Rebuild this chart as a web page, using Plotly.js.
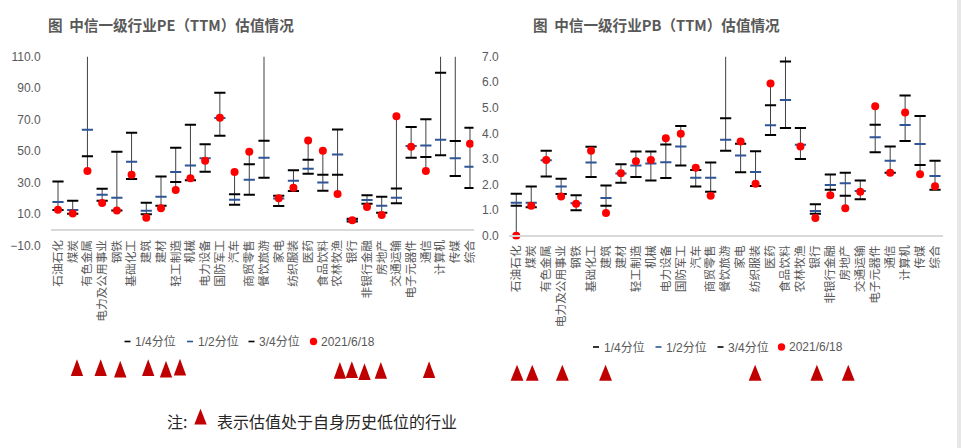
<!DOCTYPE html>
<html>
<head>
<meta charset="utf-8">
<script src="https://cdn.plot.ly/plotly-3.0.1.min.js"></script>
<style>
  html, body { margin: 0; padding: 0; background: #ffffff; }
  #chart { width: 961px; height: 448px; }
</style>
</head>
<body>
<div id="chart"></div>
<script>
// ---------------- DATA ----------------
const categories = ['石油石化','煤炭','有色金属','电力及公用事业','钢铁','基础化工','建筑','建材','轻工制造','机械',
  '电力设备','国防军工','汽车','商贸零售','餐饮旅游','家电','纺织服装','医药','食品饮料','农林牧渔',
  '银行','非银行金融','房地产','交通运输','电子元器件','通信','计算机','传媒','综合'];

const seriesNames = ['1/4分位', '1/2分位', '3/4分位', '2021/6/18'];

// PE (TTM)
const peQ1  = [12.5, 10.2, 46.7, 18.5, 12.3, 32.2, 9.8, 15.3, 30.3, 31.4, 36.9, 59.8, 15.9, 22.3, 33.1, 15.1, 24.6, 35.6, 24.8, 35.0, 5.3, 16.6, 10.8, 16.8, 45.8, 46.2, 47.3, 34.2, 26.5];
const peQ2  = [17.6, 12.5, 63.6, 22.3, 20.4, 43.3, 12.1, 21.0, 36.7, 40.9, 45.4, 71.0, 19.1, 31.8, 45.8, 19.8, 31.2, 38.8, 30.1, 47.9, 6.2, 18.9, 15.3, 20.4, 53.3, 53.6, 57.2, 45.4, 40.1];
const peQ3  = [30.6, 18.5, 125.0, 26.1, 49.6, 61.7, 17.2, 33.9, 52.2, 66.8, 54.3, 87.1, 22.5, 41.6, 56.6, 21.7, 37.8, 44.5, 35.0, 63.8, 7.0, 21.9, 21.0, 26.3, 65.3, 70.2, 99.8, 56.4, 64.9];
const peNow = [12.8, 10.3, 37.3, 17.0, 12.3, 35.0, 7.7, 13.6, 25.3, 32.7, 43.9, 71.2, 36.7, 49.6, 150.0, 20.0, 26.7, 56.8, 50.3, 22.7, 6.0, 14.5, 9.4, 72.1, 52.8, 37.3, 120.0, 118.0, 54.7];

// PB (TTM)
const pbQ1  = [1.17, 1.11, 2.31, 1.63, 0.99, 2.29, 1.17, 2.07, 2.29, 2.16, 2.26, 2.74, 1.92, 1.72, 3.32, 2.48, 1.94, 3.94, 4.21, 3.00, 0.86, 1.80, 1.56, 1.42, 3.26, 2.46, 3.70, 2.76, 1.80];
const pbQ2  = [1.29, 1.29, 2.95, 1.92, 1.27, 2.86, 1.47, 2.43, 2.74, 2.82, 2.87, 3.49, 2.27, 2.27, 3.75, 3.14, 2.49, 4.32, 5.31, 3.56, 0.96, 1.98, 2.05, 1.75, 3.85, 2.93, 4.33, 3.59, 2.33];
const pbQ3  = [1.64, 1.92, 3.32, 2.23, 1.58, 3.48, 1.96, 2.79, 3.29, 3.29, 3.57, 4.29, 2.57, 2.86, 4.59, 3.60, 3.30, 5.10, 6.81, 4.21, 1.23, 2.39, 2.46, 2.16, 4.34, 3.49, 5.48, 4.68, 2.93];
const pbNow = [0.00, 1.17, 2.96, 1.53, 1.25, 3.32, 0.89, 2.44, 2.91, 2.96, 3.81, 3.99, 2.66, 1.56, 8.00, 3.68, 2.03, 5.95, 9.50, 3.49, 0.69, 1.58, 1.07, 1.72, 5.06, 2.46, 4.82, 2.40, 1.93];

// industries marked as being at a historical low (red triangles)
const peLowFlags = ['煤炭','电力及公用事业','钢铁','建筑','建材','轻工制造','农林牧渔','银行','非银行金融','房地产','通信'];
const pbLowFlags = ['石油石化','煤炭','电力及公用事业','建筑','纺织服装','银行','房地产'];

// ---------------- STYLE / LAYOUT ----------------
const W = 961, H = 448;
const px = v => v / W;            // x pixel -> paper
const py = v => 1 - v / H;        // y pixel (from top) -> paper
const fontCJK = 'Noto Sans CJK SC, sans-serif';
const fontNum = 'Liberation Sans, Arial, Noto Sans CJK SC, sans-serif';
const txtGrey = '#595959';
const dashBlack = '#000000';
const dashBlue = '#2F5597';
const dotRed = '#FF0000';
const triRed = '#C00000';

const idx = categories.map((_, i) => i);

function panelTraces(q1, q2, q3, now, xa, ya) {
  const lx = [], ly = [];
  idx.forEach(i => {
    const vals = [q1[i], q2[i], q3[i], now[i]];
    lx.push(i, i, null);
    ly.push(Math.min(...vals), Math.max(...vals), null);
  });
  const base = { type: 'scatter', xaxis: xa, yaxis: ya, showlegend: false, hoverinfo: 'skip' };
  const dash = (y, col, name) => Object.assign({}, base, {
    x: idx, y: y, name: name, mode: 'markers',
    marker: { symbol: 'line-ew', size: 8, color: col, line: { color: col, width: 2 } }
  });
  return [
    Object.assign({}, base, { x: lx, y: ly, mode: 'lines', line: { color: '#404040', width: 1 } }),
    dash(q1, dashBlack, seriesNames[0]),
    dash(q2, dashBlue, seriesNames[1]),
    dash(q3, dashBlack, seriesNames[2]),
    Object.assign({}, base, { x: idx, y: now, name: seriesNames[3], mode: 'markers',
      marker: { symbol: 'circle', size: 8, color: dotRed } })
  ];
}

const traces = [
  ...panelTraces(peQ1, peQ2, peQ3, peNow, 'x', 'y'),
  ...panelTraces(pbQ1, pbQ2, pbQ3, pbNow, 'x2', 'y2')
];

const xCommon = {
  tickmode: 'array', tickvals: idx, ticktext: categories, tickangle: -90,
  showline: true, linecolor: '#d9d9d9', linewidth: 2, showgrid: false, zeroline: false,
  ticks: '', automargin: false, fixedrange: true, anchor: 'free', ticklabelstandoff: 4,
  tickfont: { family: fontCJK, size: 11.7, color: txtGrey }
};
const yCommon = {
  showgrid: false, zeroline: false, showline: false, ticks: '', tickformat: '.1f',
  automargin: false, fixedrange: true, ticklabelstandoff: 9,
  tickfont: { family: fontNum, size: 12, color: txtGrey }
};

const shapes = [];
const annotations = [];

// titles
[['图  中信一级行业PE（TTM）估值情况', 46], ['图  中信一级行业PB（TTM）估值情况', 531]].forEach(([t, x]) => {
  annotations.push({ xref: 'paper', yref: 'paper', x: px(x), y: py(24.5), xanchor: 'left', yanchor: 'middle',
    showarrow: false, text: '<b>' + t + '</b>', font: { family: fontCJK, size: 14.6, color: txtGrey } });
});

// legends
function legend(dashX, dotX, textX, yPix) {
  const cols = [dashBlack, dashBlue, dashBlack];
  for (let k = 0; k < 3; k++) {
    shapes.push({ type: 'line', xref: 'paper', yref: 'paper', x0: px(dashX[k]), x1: px(dashX[k] + 6),
      y0: py(yPix), y1: py(yPix), line: { color: cols[k], width: 1.6 } });
  }
  shapes.push({ type: 'circle', xref: 'paper', yref: 'paper', x0: px(dotX - 3.7), x1: px(dotX + 3.7),
    y0: py(yPix + 3.7), y1: py(yPix - 3.7), fillcolor: dotRed, line: { width: 0 } });
  seriesNames.forEach((n, k) => annotations.push({ xref: 'paper', yref: 'paper', x: px(textX[k]), y: py(yPix),
    xanchor: 'left', yanchor: 'middle', showarrow: false, text: n,
    font: { family: fontNum, size: 12, color: txtGrey } }));
}
legend([124.5, 187, 248.5], 313.5, [132.5, 196, 257, 318.5], 341.5);
legend([593, 655.5, 717.5], 781.5, [602, 664, 725.5, 786.5], 347);

// low-valuation triangles (hand-placed in the original, small nudges)
function tri(xref, c, hw, top, bottom) {
  shapes.push({ type: 'path', xref: xref, yref: 'paper', layer: 'above',
    path: `M ${c - hw},${py(bottom)} L ${c + hw},${py(bottom)} L ${c},${py(top)} Z`,
    fillcolor: triRed, line: { width: 0 } });
}
const peNudge = [0.29, -0.10, 0.23, 0.13, 0.34, 0.29, 0.16, -0.03, -0.17, -0.06, 0.22];
const peTop   = [359.3, 359.3, 360.7, 359.3, 360.7, 358.7, 362, 361.3, 363.3, 362, 361.3];
peLowFlags.forEach((n, k) => tri('x', categories.indexOf(n) + peNudge[k], 0.42, peTop[k], peTop[k] + 16.8));
const pbNudge = [0.05, 0.07, 0.08, -0.03, -0.03, 0.1, 0.2];
pbLowFlags.forEach((n, k) => tri('x2', categories.indexOf(n) + pbNudge[k], 0.43, 364.7, 380.8));

// footnote
annotations.push({ xref: 'paper', yref: 'paper', x: px(165), y: py(421), xanchor: 'left', yanchor: 'middle',
  showarrow: false, text: '注:', font: { family: fontCJK, size: 16, color: '#262626' } });
shapes.push({ type: 'path', xref: 'paper', yref: 'paper',
  path: `M ${px(194.3)},${py(424.5)} L ${px(206.7)},${py(424.5)} L ${px(200.5)},${py(408.8)} Z`,
  fillcolor: triRed, line: { width: 0 } });
annotations.push({ xref: 'paper', yref: 'paper', x: px(214.5), y: py(421), xanchor: 'left', yanchor: 'middle',
  showarrow: false, text: '表示估值处于自身历史低位的行业', font: { family: fontCJK, size: 16, color: '#262626' } });

// light grey strip at the right edge
shapes.push({ type: 'rect', xref: 'paper', yref: 'paper', x0: px(957), x1: 1, y0: 0, y1: 1,
  fillcolor: '#e7e7e7', line: { width: 0 }, layer: 'below' });

const layout = {
  width: W, height: H,
  margin: { l: 0, r: 0, t: 0, b: 0, pad: 0 },
  paper_bgcolor: '#ffffff', plot_bgcolor: 'rgba(0,0,0,0)',
  showlegend: false,
  xaxis: Object.assign({}, xCommon, { domain: [px(50.64), px(473.5)], range: [-0.5, 28.238], position: py(230.3) }),
  yaxis: Object.assign({}, yCommon, { domain: [py(245.5), py(56.7)], range: [-10, 110], tick0: -10, dtick: 20, anchor: 'x' }),
  xaxis2: Object.assign({}, xCommon, { domain: [px(508.8), px(942.5)], range: [-0.5, 28.5], position: py(235.7) }),
  yaxis2: Object.assign({}, yCommon, { domain: [py(239.5), py(56.7)], range: [-0.15, 7], tick0: 0, dtick: 1, anchor: 'x2' }),
  shapes: shapes,
  annotations: annotations
};

Plotly.newPlot('chart', traces, layout, { staticPlot: true, displayModeBar: false });
</script>
</body>
</html>
